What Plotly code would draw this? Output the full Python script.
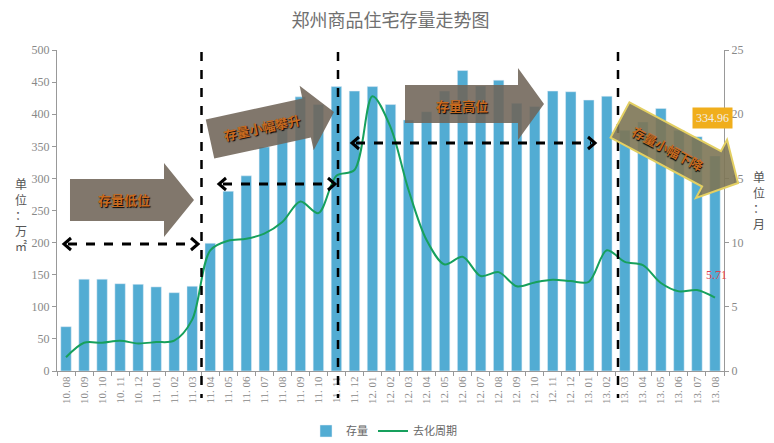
import plotly.graph_objects as go
import math

months = ["10. 08", "10. 09", "10. 10", "10. 11", "10. 12",
          "11. 01", "11. 02", "11. 03", "11. 04", "11. 05", "11. 06", "11. 07", "11. 08", "11. 09", "11. 10", "11. 11", "11. 12",
          "12. 01", "12. 02", "12. 03", "12. 04", "12. 05", "12. 06", "12. 07", "12. 08", "12. 09", "12. 10", "12. 11", "12. 12",
          "13. 01", "13. 02", "13. 03", "13. 04", "13. 05", "13. 06", "13. 07", "13. 08"]

stock = [69, 143, 143, 136, 135,
         131, 122, 132, 199, 280, 304, 349, 385, 427, 415, 443, 436,
         443, 415, 391, 404, 436, 468, 444, 453, 417, 412, 436, 435,
         422, 428, 375, 388, 409, 375, 365, 334.96]

cycle = [1.07, 2.2, 2.2, 2.35, 2.15,
         2.25, 2.36, 4.0, 9.4, 10.15, 10.3, 10.7, 11.6, 13.2, 12.3, 15.2, 15.65,
         21.4, 19.0, 14.1, 10.2, 8.3, 8.9, 7.4, 7.7, 6.6, 6.9, 7.1, 7.0,
         6.95, 9.4, 8.5, 8.25, 6.85, 6.2, 6.3, 5.71]

# page offset of the figure inside the browser window (default body margin)
OX, OY = 8, 8
W, H = 774, 443
# desired plot area on screen
SX0, SX1, SY0, SY1 = 57, 724, 50, 371
PW, PH = SX1 - SX0, SY1 - SY0
L, T = SX0 - OX, SY0 - OY
R = W - L - PW
B = H - T - PH

NUM_FONT = "Liberation Serif, DejaVu Serif, serif"


def px(x, y):
    return (x - SX0) / PW, (SY1 - y) / PH


def path_from(points):
    pts = [px(x, y) for x, y in points]
    return "M " + " L ".join(f"{a:.5f},{b:.5f}" for a, b in pts) + " Z"


def block_arrow(x0, y0, x1, y1, bw, hw, hl):
    dx, dy = x1 - x0, y1 - y0
    ln = math.hypot(dx, dy)
    ux, uy = dx / ln, dy / ln
    nx, ny = -uy, ux
    bx, by = x1 - ux * hl, y1 - uy * hl
    pts = [
        (x0 + nx * bw, y0 + ny * bw),
        (bx + nx * bw, by + ny * bw),
        (bx + nx * hw, by + ny * hw),
        (x1, y1),
        (bx - nx * hw, by - ny * hw),
        (bx - nx * bw, by - ny * bw),
        (x0 - nx * bw, y0 - ny * bw),
    ]
    return path_from(pts)


fig = go.Figure()
fig.add_trace(go.Bar(x=months, y=stock, name="存量", marker_color="#52acd3",
                     yaxis="y"))
fig.add_trace(go.Scatter(x=months, y=cycle, name="去化周期", mode="lines",
                         line=dict(color="#17a05d", width=2, shape="spline", smoothing=0.9),
                         yaxis="y2"))

shapes = []
# vertical dashed separators
for xpx in (201.5, 338, 618):
    xp, _ = px(xpx, 0)
    shapes.append(dict(type="line", xref="paper", yref="paper", x0=xp, x1=xp,
                       y0=px(0, 52)[1], y1=px(0, 398)[1],
                       line=dict(color="black", width=2.5, dash="dash"), layer="above"))

# double-headed dashed arrows
for (xa, xb, yy) in ((64, 198, 244), (219, 335, 184), (352, 595, 143)):
    a = px(xa + 4, yy)
    b = px(xb - 4, yy)
    shapes.append(dict(type="line", xref="paper", yref="paper", x0=a[0], x1=b[0], y0=a[1], y1=b[1],
                       line=dict(color="black", width=3, dash="dash"), layer="above"))
    for tipx, sgn in ((xa, 1), (xb, -1)):
        p = [px(tipx + sgn * 7, yy - 6), px(tipx, yy), px(tipx + sgn * 7, yy + 6)]
        shapes.append(dict(type="path", xref="paper", yref="paper",
                           path=f"M {p[0][0]:.5f},{p[0][1]:.5f} L {p[1][0]:.5f},{p[1][1]:.5f} L {p[2][0]:.5f},{p[2][1]:.5f}",
                           line=dict(color="black", width=3), layer="above"))

arrow_fill = "rgba(112,100,88,0.88)"
shapes.append(dict(type="path", xref="paper", yref="paper", path=block_arrow(70, 200, 194, 200, 21, 37, 30),
                   fillcolor=arrow_fill, line=dict(width=0), layer="above"))
shapes.append(dict(type="path", xref="paper", yref="paper", path=block_arrow(210, 139, 334, 112, 20, 33, 28),
                   fillcolor=arrow_fill, line=dict(width=0), layer="above"))
shapes.append(dict(type="path", xref="paper", yref="paper", path=block_arrow(405, 104, 544, 104, 19, 36, 26),
                   fillcolor=arrow_fill, line=dict(width=0), layer="above"))
shapes.append(dict(type="path", xref="paper", yref="paper", path=block_arrow(620, 120, 738, 183, 20, 33, 30),
                   fillcolor="rgba(125,118,85,0.9)", line=dict(width=2, color="#e3cf62"), layer="above"))

txt_font = dict(family="Noto Sans CJK SC", size=13, color="#c86a1f", weight="bold",
                shadow="1px 1px 1px #000")
ann = []


def add_text(text, x, y, angle=0, font=None, **kw):
    xp, yp = px(x, y)
    ann.append(dict(text=text, x=xp, y=yp, xref="paper", yref="paper", showarrow=False,
                    xanchor="center", yanchor="middle",
                    textangle=angle, font=font or txt_font, **kw))


add_text("存量低位", 124, 199)
add_text("存量小幅攀升", 262, 127, angle=-12)
add_text("存量高位", 462, 105)
add_text("存量小幅下降", 668, 148, angle=28)
add_text("334.96", 712, 118,
         font=dict(family=NUM_FONT, size=12, color="#f3efe6"),
         bgcolor="#f0ae1c", borderpad=3)
add_text("5.71", 716, 275, font=dict(family=NUM_FONT, size=12, color="#e0404c"))
add_text("单<br>位<br>：<br>万<br>㎡", 21, 214,
         font=dict(family="Noto Sans CJK SC", size=12, color="#555"))
add_text("单<br>位<br>：<br>月", 759, 200,
         font=dict(family="Noto Sans CJK SC", size=12, color="#555"))

fig.update_layout(
    width=W, height=H,
    margin=dict(l=L, r=R, t=T, b=B, autoexpand=False),
    paper_bgcolor="white", plot_bgcolor="white",
    title=dict(text="郑州商品住宅存量走势图", x=0.5, xref="paper", xanchor="center",
               y=1 - (21 - OY) / H, yanchor="middle",
               font=dict(family="Noto Sans CJK SC", size=18, color="#707070")),
    bargap=0.42,
    showlegend=True,
    legend=dict(orientation="h", x=(306 - SX0) / PW, y=px(0, 431)[1], xanchor="left", yanchor="middle",
                font=dict(family="Noto Sans CJK SC", size=11, color="#666"), itemwidth=30,
                bgcolor="rgba(0,0,0,0)"),
    xaxis=dict(type="category", tickangle=-90, tickson="boundaries", ticks="outside", ticklen=4,
               tickcolor="#999", showline=True, linecolor="#999", showgrid=False,
               tickfont=dict(family=NUM_FONT, size=11, color="#888"),
               range=[-0.5, len(months) - 0.5], automargin=False),
    yaxis=dict(range=[0, 500], dtick=50, showgrid=False, showline=True, linecolor="#999",
               ticks="outside", ticklen=4, tickcolor="#999", zeroline=False, automargin=False,
               tickfont=dict(family=NUM_FONT, size=12, color="#888")),
    yaxis2=dict(range=[0, 25], dtick=5, overlaying="y", side="right", showgrid=False, showline=True,
                linecolor="#999", ticks="outside", ticklen=4, tickcolor="#999", zeroline=False,
                automargin=False,
                tickfont=dict(family=NUM_FONT, size=12, color="#888")),
    shapes=shapes,
    annotations=ann,
)

fig.write_html("out.html")
